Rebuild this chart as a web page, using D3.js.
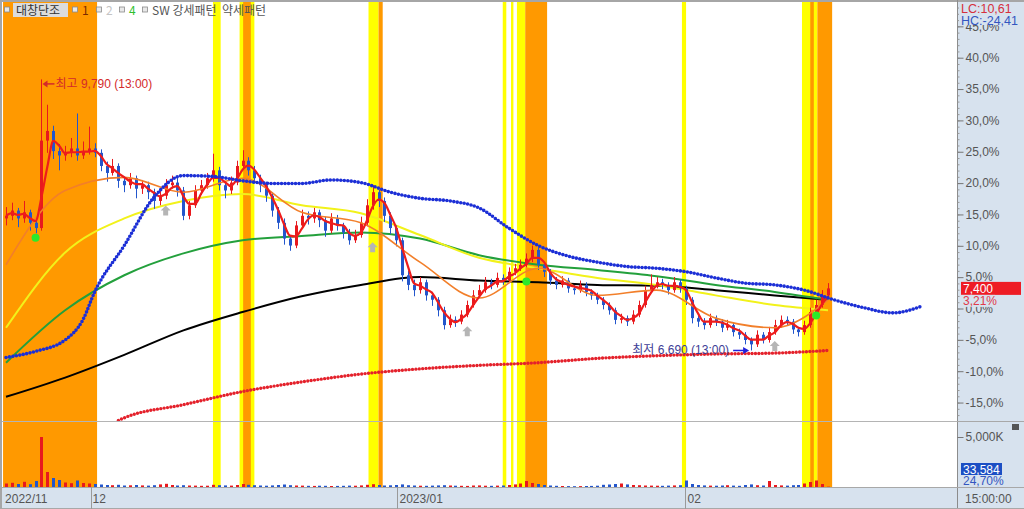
<!DOCTYPE html>
<html><head><meta charset="utf-8">
<script src="https://cdn.jsdelivr.net/npm/d3@7"></script>
<style>body{margin:0;background:#fff;overflow:hidden}svg{display:block}</style>
</head><body><svg id="c" width="1024" height="509"></svg>
<script>
// ---------------- DATA ----------------
const stockName = "대창단조";
const basePrice = 7170;          // 0.0% reference price
const firstOpen = 8200;
const closes = [8230,8290,8200,8270,8150,8090,9090,9200,8970,8920,
 8950,9000,8920,8970,9000,8950,8800,8720,8800,8630,
 8580,8660,8540,8580,8500,8400,8460,8580,8610,8520,
 8230,8350,8520,8580,8660,8750,8580,8520,8610,8800,
 8860,8750,8660,8580,8460,8290,8150,7970,7890,8120,
 8230,8200,8270,8180,8060,8200,8120,8040,7950,8010,
 8150,8350,8500,8400,8230,8090,7950,7550,7440,7380,
 7470,7320,7270,7150,6980,7040,7020,7100,7210,7320,
 7380,7470,7440,7520,7490,7590,7630,7670,7740,7840,
 7670,7590,7490,7440,7490,7400,7380,7440,7360,7320,
 7270,7210,7150,7040,7060,7020,7100,7210,7380,7440,
 7470,7440,7380,7470,7400,7270,7060,7020,6980,7060,
 7020,6950,6980,6900,6870,6810,6760,6870,6810,6900,
 6980,7040,7020,6930,6900,6980,7130,7210,7320,7400];
const highs = [8330,8380,8320,8400,8300,8200,9790,9500,9260,9050,
 9030,9120,9400,9080,9250,9060,8990,8850,8880,8830,
 8680,8720,8690,8640,8620,8540,8520,8650,8690,8660,
 8560,8400,8580,8640,8720,8940,8790,8620,8680,8860,
 8980,8900,8800,8700,8620,8500,8330,8200,8010,8170,
 8300,8280,8320,8300,8220,8260,8240,8150,8080,8070,
 8220,8420,8580,8530,8440,8270,8120,7980,7600,7500,
 7530,7500,7360,7300,7190,7100,7080,7150,7260,7380,
 7440,7530,7510,7580,7560,7640,7680,7730,7800,7890,
 7870,7700,7620,7530,7540,7520,7440,7490,7470,7390,
 7350,7300,7240,7180,7110,7090,7150,7260,7430,7560,
 7530,7510,7470,7530,7500,7430,7300,7100,7060,7110,
 7090,7050,7040,7010,6940,6900,6840,6920,6900,6960,
 7040,7090,7080,7050,6960,7030,7180,7270,7380,7460];
const lows = [8120,8180,8100,8150,8060,8030,8060,8950,8880,8750,
 8860,8900,8860,8880,8930,8900,8740,8620,8690,8550,
 8500,8540,8430,8480,8420,8310,8350,8420,8540,8450,
 8180,8190,8320,8470,8540,8620,8520,8430,8480,8580,
 8760,8690,8600,8500,8390,8220,8080,7900,7830,7860,
 8090,8130,8150,8100,7990,8030,8060,7970,7900,7920,
 7980,8110,8300,8330,8160,8020,7880,7480,7380,7310,
 7340,7260,7200,7080,6930,6950,6960,6990,7070,7180,
 7290,7350,7390,7410,7440,7460,7550,7600,7640,7700,
 7610,7530,7440,7390,7410,7350,7330,7350,7310,7270,
 7220,7160,7100,6990,7000,6970,6990,7070,7180,7350,
 7400,7390,7330,7350,7350,7210,7000,6960,6930,6950,
 6970,6900,6920,6850,6820,6760,6690,6730,6770,6780,
 6870,6950,6970,6880,6850,6870,6950,7100,7180,7290];
// volume in thousands of shares
const volumes = [350,420,300,520,280,600,5000,1500,900,700,450,380,650,400,350,300,
 250,200,180,220,150,170,200,160,140,180,260,320,200,150,
 180,150,140,120,130,220,180,160,140,200,300,220,180,150,130,160,200,250,180,150,
 140,120,110,130,120,100,110,120,140,130,160,220,280,200,150,170,200,260,180,150,
 130,120,140,160,180,150,130,120,110,150,160,130,120,140,150,200,260,350,600,400,
 300,200,150,120,100,90,80,90,100,110,130,220,250,300,350,260,200,180,150,140,
 130,120,140,160,180,650,300,200,160,140,130,150,180,140,120,200,260,180,150,600,
 200,160,140,180,200,350,500,650,300,33.584];
// moving averages (price) sampled at candle indices maIdx
const maIdx  = [0,10,20,30,40,50,60,70,80,90,100,110,120,130,139];
const ma20   = [7670,8520,8670,8500,8660,8270,8150,7700,7290,7630,7320,7380,7060,6950,7270];
const ma60   = [6950,7810,8200,8400,8480,8350,8260,8010,7750,7630,7520,7440,7320,7210,7150];
const ma120  = [6550,7150,7550,7800,7950,8000,8040,7970,7780,7670,7610,7540,7440,7360,7270];
const ma240  = [6160,6380,6640,6920,7130,7310,7440,7530,7490,7470,7440,7430,7380,7320,7270];
const longIdx = [19,20,30,40,50,60,70,80,90,100,110,120,130,139];
const longMa  = [5890,5920,6070,6220,6330,6420,6480,6520,6550,6600,6630,6650,6660,6690];
const leadIdx = [0,5,10,13,15,20,25,30,35,40,45,50,55,60,65,70,75,80,85,90,95,100,105,110,115,120,125,130,135,140,145,150,155];
const leadSpan = [6610,6680,6810,7040,7360,7890,8440,8690,8680,8630,8600,8600,8640,8610,8500,8430,8400,8320,8090,7890,7770,7700,7650,7630,7590,7520,7460,7440,7380,7270,7180,7120,7200];
// pattern highlight bands (candle index ranges)
const strongBands = [[35,36.3],[39.5,42],[61.3,63],[84,84.6],[85.4,85.8],[86.4,87.8],[114.3,115],[134.6,137.2]];
const weakBands   = [[-0.5,15.4],[40.1,41.4],[63,63.7],[87.8,91.5],[136,136.6],[137.2,139.7]];
// signal markers
const greenIdx = [5,88,137];
const greenPrice = [7980,7480,7090];
const grayIdx = [27,62,78,130];
const grayPrice = [8290,7870,6910,6740];
// axis labels
const pctTicks = [-15,-10,-5,0,5,10,15,20,25,30,35,40,45];
const monthLabels = ["2022/11","12","2023/01","02"];
const monthIdx = [-0.5,14.3,66.2,114.9];
const highIdx = 6, lowIdx = 126;
const highLabel = "최고 9,790 (13:00)";
const lowLabel = "최저 6,690 (13:00)";
const lcLabel = "LC:10,61", hcLabel = "HC:-24,41";
const volRatioLabel = "24,70%";
const timeLabel = "15:00:00";
const legendItems = ["1","2","4"];

// ---------------- CHART ----------------
const FONT = "'Liberation Sans','Noto Sans CJK KR',sans-serif";
const svg = d3.select('#c').style('font-family', FONT);
const plotR = 957, priceTop = 2, priceBot = 421, volBot = 487;
const PANEL = '#d7e2ee';
const x = d3.scaleLinear().domain([0, 139]).range([6, 828]);
const yPct = d3.scaleLinear().domain([0, 40]).range([308.5, 57.7]);
const toPct = p => (p / basePrice - 1) * 100;
const y = p => yPct(toPct(p));
const yV = d3.scaleLinear().domain([0, 5000]).range([volBot, 437]);
const fmtPct = d => d.toFixed(1).replace('.', ',') + '%';

svg.append('rect').attr('width', 1024).attr('height', 509).attr('fill', '#fff');
const defs = svg.append('defs');
defs.append('clipPath').attr('id', 'cp').append('rect').attr('x', 2).attr('y', priceTop).attr('width', plotR - 2).attr('height', priceBot - priceTop);
defs.append('clipPath').attr('id', 'cv').append('rect').attr('x', 2).attr('y', priceBot + 1).attr('width', plotR - 2).attr('height', volBot - priceBot - 1);

// bands
const gB = svg.append('g');
gB.selectAll('.sb').data(strongBands).join('rect').attr('x', d => x(d[0])).attr('width', d => x(d[1]) - x(d[0]))
  .attr('y', priceTop).attr('height', volBot - priceTop).attr('fill', '#ffff00');
gB.selectAll('.wb').data(weakBands).join('rect').attr('x', d => Math.max(2, x(d[0]))).attr('width', d => x(d[1]) - Math.max(2, x(d[0])))
  .attr('y', priceTop).attr('height', volBot - priceTop).attr('fill', '#ff9900');

// separators
svg.append('line').attr('x1', 0).attr('x2', 1024).attr('y1', priceBot + 0.5).attr('y2', priceBot + 0.5).attr('stroke', '#b4b4b4');

// MA lines
const gP = svg.append('g').attr('clip-path', 'url(#cp)');
const lineGen = (idx) => d3.line().x((d, i) => x(idx[i])).y(d => y(d)).curve(d3.curveMonotoneX);
const drawLine = (idx, vals, color, w, dash) => {
  const p = gP.append('path').attr('d', lineGen(idx)(vals)).attr('fill', 'none').attr('stroke', color).attr('stroke-width', w);
  if (dash) p.attr('stroke-dasharray', dash).attr('stroke-linecap', 'round');
  return p;
};
drawLine(maIdx, ma240, '#000000', 2);
drawLine(maIdx, ma120, '#23a03c', 2);
drawLine(maIdx, ma60, '#f2f21a', 2);
drawLine(longIdx, longMa, '#e4212b', 3.4, '0 3.4');

// candles
const opens = closes.map((c, i) => i === 0 ? firstOpen : closes[i - 1]);
const candles = closes.map((c, i) => ({ i, o: opens[i], h: highs[i], l: lows[i], c, v: volumes[i] }));
const UP = '#e8191e', DN = '#2356cc';
const col = d => d.c >= d.o ? UP : DN;
const gC = gP.append('g');
gC.selectAll('line').data(candles).join('line')
  .attr('x1', d => Math.round(x(d.i)) + 0.5).attr('x2', d => Math.round(x(d.i)) + 0.5)
  .attr('y1', d => y(d.h)).attr('y2', d => y(d.l)).attr('stroke', col).attr('stroke-width', 1);
gC.selectAll('rect').data(candles).join('rect')
  .attr('x', d => Math.round(x(d.i)) - 1).attr('width', 3)
  .attr('y', d => y(Math.max(d.o, d.c))).attr('height', d => Math.max(1, Math.abs(y(d.o) - y(d.c))))
  .attr('fill', col);

drawLine(maIdx, ma20, '#f27f2a', 1.6);
// short moving average of closes (3 candles)
const shortMa = closes.map((c, i) => d3.mean(closes.slice(Math.max(0, i - 2), i + 1)));
gP.append('path').attr('d', d3.line().x((d, i) => x(i)).y(d => y(d)).curve(d3.curveMonotoneX)(shortMa))
  .attr('fill', 'none').attr('stroke', '#ee1c1c').attr('stroke-width', 2.2);
drawLine(leadIdx, leadSpan, '#1c2fd6', 3.6, '0 3.5');

// markers
gP.selectAll('.gm').data(greenIdx).join('circle').attr('cx', d => x(d)).attr('cy', (d, i) => y(greenPrice[i])).attr('r', 4).attr('fill', '#2bea2b');
gP.selectAll('.gy').data(grayIdx).join('path').attr('transform', (d, i) => `translate(${x(d)},${y(grayPrice[i])})`)
  .attr('d', 'M0,-5L5,0L2.5,0L2.5,5L-2.5,5L-2.5,0L-5,0Z').attr('fill', '#b5b5b5');

// annotations
const hx = x(highIdx), hy = y(highs[highIdx]) + 4.5;
svg.append('line').attr('x1', hx + 4).attr('x2', hx + 13).attr('y1', hy).attr('y2', hy).attr('stroke', '#d42a2a').attr('stroke-width', 1.5);
svg.append('path').attr('d', `M${hx + 1},${hy}l5,-3.5v7z`).attr('fill', '#d42a2a');
svg.append('text').attr('x', hx + 14).attr('y', hy + 4.5).attr('font-size', 12).attr('fill', '#d42a2a').text(highLabel);
const lx = x(lowIdx), ly = y(lows[lowIdx]);
svg.append('text').attr('x', lx - 22).attr('y', ly + 4).attr('text-anchor', 'end').attr('font-size', 12).attr('fill', '#3d3d96').text(lowLabel);
svg.append('line').attr('x1', lx - 18).attr('x2', lx - 7).attr('y1', ly).attr('y2', ly).attr('stroke', '#2222dd').attr('stroke-width', 1.5);
svg.append('path').attr('d', `M${lx - 2},${ly}l-6,-3.5v7z`).attr('fill', '#2222dd');

// volume
const gVv = svg.append('g').attr('clip-path', 'url(#cv)');
gVv.selectAll('rect').data(candles).join('rect')
  .attr('x', d => Math.round(x(d.i)) - 1).attr('width', 3)
  .attr('y', d => yV(d.v)).attr('height', d => volBot - yV(d.v)).attr('fill', col);

// frame
svg.append('rect').attr('x', 0).attr('y', 0).attr('width', 1024).attr('height', 2).attr('fill', '#a6a6a6');
svg.append('rect').attr('x', 0).attr('y', 0).attr('width', 2).attr('height', 509).attr('fill', '#a6a6a6');

// right panel
svg.append('rect').attr('x', plotR).attr('y', 2).attr('width', 1024 - plotR).attr('height', 507).attr('fill', PANEL);
svg.append('line').attr('x1', plotR + 0.5).attr('x2', plotR + 0.5).attr('y1', 0).attr('y2', 509).attr('stroke', '#8c8c8c');
svg.append('line').attr('x1', plotR).attr('x2', 1024).attr('y1', priceBot + 0.5).attr('y2', priceBot + 0.5).attr('stroke', '#a8a8a8');
const gMinor = svg.append('g').attr('transform', `translate(${plotR + 0.5},0)`)
  .call(d3.axisRight(yPct).tickValues(d3.range(-17, 49, 1)).tickSize(2).tickFormat(''));
gMinor.select('.domain').remove();
gMinor.selectAll('line').attr('stroke', '#999');
const gAx = svg.append('g').attr('transform', `translate(${plotR + 0.5},0)`)
  .call(d3.axisRight(yPct).tickValues(pctTicks).tickSize(6).tickPadding(2).tickFormat(fmtPct));
gAx.select('.domain').remove();
gAx.selectAll('line').attr('stroke', '#777');
gAx.selectAll('text').attr('font-size', 12).attr('fill', '#555').style('font-family', FONT);
const gVa = svg.append('g').attr('transform', `translate(${plotR + 0.5},0)`)
  .call(d3.axisRight(yV).tickValues([5000]).tickSize(6).tickPadding(2).tickFormat(d => d3.format(',')(d) + 'K'));
gVa.select('.domain').remove();
gVa.selectAll('line').attr('stroke', '#777');
gVa.selectAll('text').attr('font-size', 12).attr('fill', '#555').style('font-family', FONT);
svg.append('rect').attr('x', 1012).attr('y', 424).attr('width', 7).attr('height', 6).attr('fill', '#555');

// header labels LC / HC (drawn over the top tick label, as in the terminal)
svg.append('rect').attr('x', 959).attr('y', 2).attr('width', 64).attr('height', 23).attr('fill', PANEL);
svg.append('text').attr('x', 961).attr('y', 13).attr('font-size', 12.5).attr('fill', '#d6303c').text(lcLabel);
svg.append('text').attr('x', 961).attr('y', 24.5).attr('font-size', 12.5).attr('fill', '#3356c0').text(hcLabel);

// current price box
const last = candles[candles.length - 1];
const cy = y(last.c);
const lastPct = toPct(last.c);
svg.append('rect').attr('x', 961).attr('y', cy - 6.5).attr('width', 60).attr('height', 13).attr('fill', '#ee1c24');
svg.append('text').attr('x', 963).attr('y', cy + 4.5).attr('font-size', 12).attr('fill', '#fff').text(d3.format(',')(last.c));
svg.append('rect').attr('x', 961).attr('y', cy + 6.5).attr('width', 34).attr('height', 12).attr('fill', PANEL);
svg.append('text').attr('x', 963).attr('y', cy + 17).attr('font-size', 12).attr('fill', '#e03a4a').text(lastPct.toFixed(2).replace('.', ',') + '%');

// volume box
const vy = 469;
svg.append('rect').attr('x', 961).attr('y', vy - 6).attr('width', 41).attr('height', 12).attr('fill', '#1c4fc4');
svg.append('text').attr('x', 963).attr('y', vy + 4.5).attr('font-size', 12).attr('fill', '#fff').text(d3.format(',')(Math.round(last.v * 1000)));
svg.append('text').attr('x', 963).attr('y', vy + 16).attr('font-size', 12).attr('fill', '#3356c0').text(volRatioLabel);

// bottom axis band
svg.append('rect').attr('x', 2).attr('y', volBot + 1).attr('width', plotR - 2).attr('height', 509 - volBot - 1).attr('fill', PANEL);
svg.append('line').attr('x1', 0).attr('x2', 1024).attr('y1', volBot + 0.5).attr('y2', volBot + 0.5).attr('stroke', '#a8a8a8');
svg.append('line').attr('x1', 0).attr('x2', 1024).attr('y1', 508.5).attr('y2', 508.5).attr('stroke', '#a8a8a8');
const gX = svg.append('g');
gX.selectAll('line').data(monthIdx.slice(1)).join('line')
  .attr('x1', d => Math.round(x(d)) + 0.5).attr('x2', d => Math.round(x(d)) + 0.5).attr('y1', volBot).attr('y2', 509).attr('stroke', '#9a9a9a');
gX.selectAll('text').data(monthLabels).join('text')
  .attr('x', (d, i) => Math.max(4, x(monthIdx[i]) + 2)).attr('y', 503).attr('font-size', 12).attr('fill', '#555').text(d => d);
svg.append('text').attr('x', 965).attr('y', 503).attr('font-size', 12).attr('fill', '#555').text(timeLabel);

// legend
const gL = svg.append('g').attr('font-family', "'Noto Sans CJK KR',sans-serif").attr('font-size', 12);
const sq = (xx) => gL.append('rect').attr('x', xx).attr('y', 7).attr('width', 5).attr('height', 5).attr('fill', '#e8e8e8').attr('stroke', '#8a8a8a').attr('stroke-width', 0.8);
sq(4.5);
gL.append('rect').attr('x', 13).attr('y', 3).attr('width', 55).attr('height', 14).attr('fill', '#dcdcdc');
gL.append('text').attr('x', 16).attr('y', 14.5).attr('fill', '#333').text(stockName);
const legCols = ['#7a2a00', '#c4c4c4', '#2fbf2f'];
const legX = [82, 106, 129];
legendItems.forEach((t, i) => {
  sq(legX[i] - 9.5);
  gL.append('text').attr('x', legX[i]).attr('y', 14.5).attr('fill', legCols[i]).text(t);
});
sq(142.5);
gL.append('text').attr('x', 152).attr('y', 14.5).attr('fill', '#555').text('SW 강세패턴');
gL.append('text').attr('x', 222).attr('y', 14.5).attr('fill', '#555').text('약세패턴');
</script></body></html>
